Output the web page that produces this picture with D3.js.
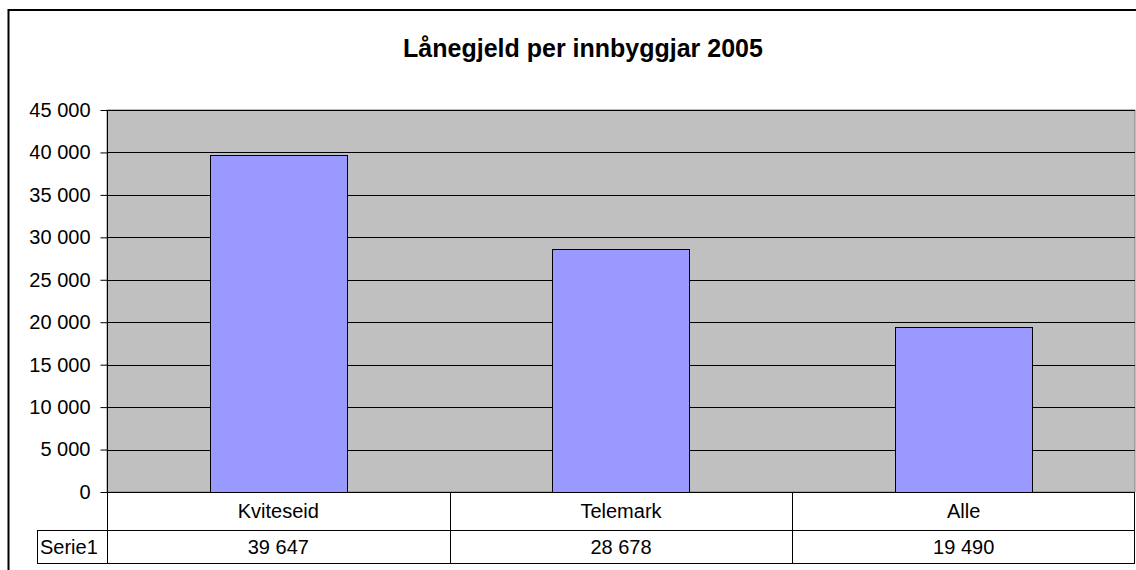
<!DOCTYPE html>
<html>
<head>
<meta charset="utf-8">
<title>Lånegjeld per innbyggjar 2005</title>
<script src="https://cdn.jsdelivr.net/npm/d3@7"></script>
<style>
    body { margin: 0; background: #fff; }
    svg { font-family: "Liberation Sans", Arial, sans-serif; }
</style>
</head>
<body>
<svg width="1136" height="570"></svg>
<script>
    // data
    const categories = ["Kviteseid", "Telemark", "Alle"];
    const values = [39647, 28678, 19490];
    const seriesName = "Serie1";
    const yTicks = [0, 5000, 10000, 15000, 20000, 25000, 30000, 35000, 40000, 45000];

    const svg = d3.select("svg");
    const plot = { left: 107, right: 1135, top: 110, bottom: 492 };
    const row1 = 530, row2 = 563, tableLeft = 37;
    const fs = 20;

    // chart border (right/bottom edges fall outside the picture)
    svg.append("rect")
        .attr("x", 8.5).attr("y", 10)
        .attr("width", 1140).attr("height", 570)
        .attr("fill", "#fff").attr("stroke", "#000").attr("stroke-width", 2);

    const fmt = v => d3.format(",")(v).replace(/,/g, " ");

    const x = d3.scaleBand()
        .domain(categories)
        .range([plot.left, plot.right])
        .paddingInner(0.6)
        .paddingOuter(0.3);

    const y = d3.scaleLinear()
        .domain([0, 45000])
        .range([plot.bottom, plot.top]);

    svg.append("text")
        .attr("x", 583).attr("y", 57)
        .attr("text-anchor", "middle")
        .attr("font-size", 25).attr("font-weight", "bold")
        .text("Lånegjeld per innbyggjar 2005");

    // plot area
    svg.append("rect")
        .attr("x", plot.left).attr("y", plot.top)
        .attr("width", plot.right - plot.left).attr("height", plot.bottom - plot.top)
        .attr("fill", "#c0c0c0").attr("stroke", "#808080");

    // gridlines
    svg.append("g")
        .selectAll("line")
        .data(yTicks.filter(d => d > 0))
        .join("line")
        .attr("x1", plot.left).attr("x2", plot.right)
        .attr("y1", d => Math.round(y(d)) + 0.5).attr("y2", d => Math.round(y(d)) + 0.5)
        .attr("stroke", "#000");

    // bars
    svg.append("g")
        .selectAll("rect")
        .data(values)
        .join("rect")
        .attr("x", (d, i) => Math.round(x(categories[i])) + 0.5)
        .attr("y", d => Math.round(y(d)) + 0.5)
        .attr("width", Math.round(x.bandwidth()))
        .attr("height", d => Math.round(y(0)) - Math.round(y(d)))
        .attr("fill", "#9999ff").attr("stroke", "#000");

    // y axis
    const yAxis = svg.append("g")
        .attr("transform", `translate(${plot.left + 0.5},0)`)
        .call(d3.axisLeft(y).tickValues(yTicks).tickSize(7).tickPadding(10).tickFormat(fmt));
    yAxis.select(".domain").attr("d", `M0,${plot.top}V${row2}`).attr("stroke", "#000");
    yAxis.selectAll(".tick line").attr("stroke", "#000");
    yAxis.selectAll(".tick text")
        .attr("font-family", "Liberation Sans, Arial, sans-serif")
        .attr("font-size", fs).attr("fill", "#000");

    // data table
    const table = svg.append("g");
    table.append("line")
        .attr("x1", plot.left).attr("x2", plot.right)
        .attr("y1", plot.bottom + 0.5).attr("y2", plot.bottom + 0.5)
        .attr("stroke", "#000");
    table.append("line")
        .attr("x1", tableLeft).attr("x2", plot.right)
        .attr("y1", row1 + 0.5).attr("y2", row1 + 0.5)
        .attr("stroke", "#000");
    table.append("line")
        .attr("x1", tableLeft).attr("x2", plot.right)
        .attr("y1", row2 + 0.5).attr("y2", row2 + 0.5)
        .attr("stroke", "#000");
    table.append("line")
        .attr("x1", tableLeft + 0.5).attr("x2", tableLeft + 0.5)
        .attr("y1", row1).attr("y2", row2)
        .attr("stroke", "#000");
    table.append("line")
        .attr("x1", plot.right - 0.5).attr("x2", plot.right - 0.5)
        .attr("y1", plot.bottom).attr("y2", row2)
        .attr("stroke", "#000");

    const step = x.step();
    table.selectAll(".div")
        .data(categories.slice(1))
        .join("line")
        .attr("x1", d => Math.round(x(d) - step * 0.3) + 0.5)
        .attr("x2", d => Math.round(x(d) - step * 0.3) + 0.5)
        .attr("y1", plot.bottom).attr("y2", row2)
        .attr("stroke", "#000");

    table.selectAll(".cat")
        .data(categories)
        .join("text")
        .attr("x", d => x(d) + x.bandwidth() / 2)
        .attr("y", (plot.bottom + row1) / 2 + 7)
        .attr("text-anchor", "middle").attr("font-size", fs)
        .text(d => d);

    table.selectAll(".val")
        .data(values)
        .join("text")
        .attr("x", (d, i) => x(categories[i]) + x.bandwidth() / 2)
        .attr("y", (row1 + row2) / 2 + 7)
        .attr("text-anchor", "middle").attr("font-size", fs)
        .text(d => fmt(d));

    table.append("text")
        .attr("x", tableLeft + 3).attr("y", (row1 + row2) / 2 + 7)
        .attr("font-size", fs)
        .text(seriesName);
</script>
</body>
</html>
